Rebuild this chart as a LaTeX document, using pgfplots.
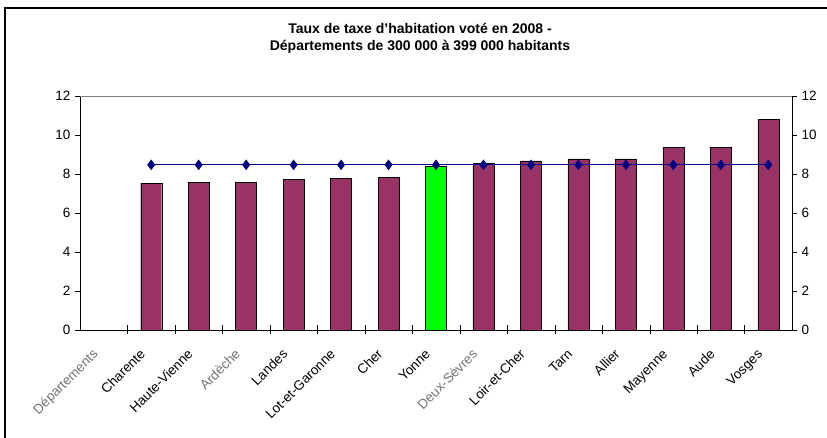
\documentclass[border=0pt]{standalone}
\usepackage{pgfplots}
\pgfplotsset{compat=1.18}
\usepackage{graphicx}
\usepackage{fontspec}
\setmainfont{Liberation Sans}
\definecolor{barpurple}{HTML}{993366}
\definecolor{bargreen}{HTML}{00FF00}
\definecolor{navyline}{HTML}{000080}
\newcommand{\rl}[1]{\rotatebox{45}{\strut #1}}
\begin{document}
\begin{tikzpicture}[x=1pt,y=1pt]
\useasboundingbox (0,0) rectangle (827,438);
\draw[line width=1.6pt] (5,0) -- (5,430) -- (827,430);
\node[font=\fontsize{14}{15}\selectfont\bfseries] at (420,410) {Taux de taxe d'habitation voté en 2008 -};
\node[font=\fontsize{14}{15}\selectfont\bfseries] at (420,391) {Départements de 300 000 à 399 000 habitants};
\begin{axis}[
  at={(80pt,108pt)}, anchor=south west,
  width=712pt, height=234pt, scale only axis,
  xmin=0, xmax=15, ymin=0, ymax=12,
  ytick={0,2,...,12},
  /pgf/number format/assume math mode=true,
  axis line style={black},
  axis y line*=left,
  axis x line*=bottom,
  ytick style={black},
  major tick length=5pt,
  tick align=outside,
  xtick={0.5,1.5,...,14.5},
  xticklabels={\rl{\color{black!55}Départements},\rl{Charente},\rl{Haute-Vienne},\rl{\color{black!55}Ardèche},\rl{Landes},\rl{Lot-et-Garonne},\rl{Cher},\rl{Yonne},\rl{\color{black!55}Deux-Sèvres},\rl{Loir-et-Cher},\rl{Tarn},\rl{Allier},\rl{Mayenne},\rl{Aude},\rl{Vosges}},
  xtick style={draw=none},
  extra x ticks={1,2,...,14},
  extra x tick labels={},
  extra x tick style={xtick style={draw=black}, major tick length=9pt, tick align=center},
  clip=false,
  every tick label/.append style={font=\fontsize{13.5}{16}\selectfont},
  every y tick label/.append style={xshift=-1pt},
  every x tick label/.append style={anchor=north east, inner sep=0pt, yshift=-12pt, xshift=-1.6pt},
]
\addplot[ybar, bar width=21pt, bar shift=0pt, fill=barpurple, draw=black] coordinates {
  (1.5,7.53) (2.5,7.58) (3.5,7.58) (4.5,7.73) (5.5,7.78) (6.5,7.83)
  (8.5,8.53) (9.5,8.67) (10.5,8.77) (11.5,8.77) (12.5,9.38) (13.5,9.38) (14.5,10.8)
};
\addplot[ybar, bar width=21pt, bar shift=0pt, fill=bargreen, draw=black] coordinates {
  (7.5,8.41)
};
\addplot[navyline, line width=1pt, mark=diamond*, mark size=4.5pt, mark options={fill=navyline, draw=navyline}] coordinates {
  (1.5,8.47) (2.5,8.47) (3.5,8.47) (4.5,8.47) (5.5,8.47) (6.5,8.47) (7.5,8.47)
  (8.5,8.47) (9.5,8.47) (10.5,8.47) (11.5,8.47) (12.5,8.47) (13.5,8.47) (14.5,8.47)
};
\draw[gray] (axis cs:0,12) -- (axis cs:15,12);
\end{axis}
\begin{axis}[
  at={(80pt,108pt)}, anchor=south west,
  width=712pt, height=234pt, scale only axis,
  xmin=0, xmax=15, ymin=0, ymax=12,
  ytick={0,2,...,12},
  /pgf/number format/assume math mode=true,
  axis y line*=right,
  axis x line=none,
  major tick length=5pt,
  tick align=outside,
  ytick style={black},
  every tick label/.append style={font=\fontsize{13.5}{16}\selectfont},
  every y tick label/.append style={xshift=1pt},
]
\end{axis}
\end{tikzpicture}
\end{document}
